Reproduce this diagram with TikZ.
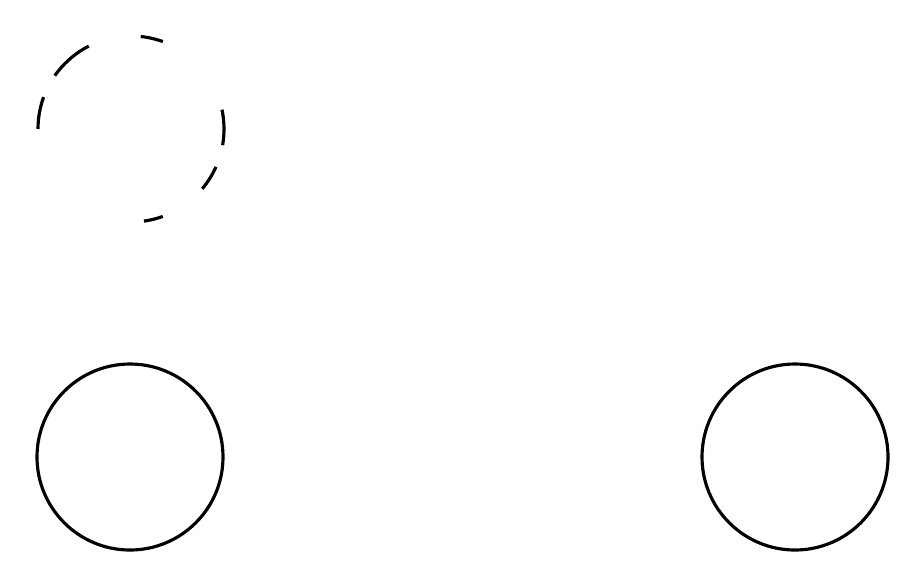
\documentclass[tikz,border=0pt]{standalone}
\usepackage{tikz}
\usetikzlibrary{positioning}

\tikzset{
  ring/.style={circle, draw=black, line width=0.9pt, minimum size=1.86cm, inner sep=0pt},
  ghostring/.style={ring, dash pattern=on 5.54pt off 26.78pt on 6.47pt off 15.24pt on 12.93pt off 6.93pt on 9.24pt off 45.26pt on 5.54pt off 13.85pt on 7.39pt off 6.47pt on 4.62pt off 0pt}
}

\begin{document}
\begin{tikzpicture}
        \useasboundingbox (0,0) rectangle (9.1,5.82);
        \node[ghostring] (ghost) at (1.31,4.53) {};
        \node[ring] (leftring) at (1.30,1.25) {};
        \node[ring] (rightring) at (7.95,1.25) {};
      \end{tikzpicture}
\end{document}
